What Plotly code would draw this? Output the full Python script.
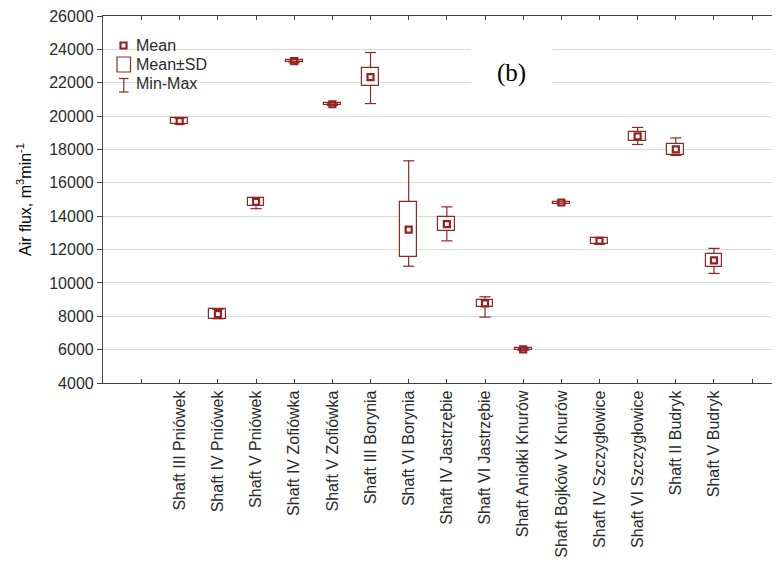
import plotly.graph_objects as go

categories = ["Shaft III Pniówek", "Shaft IV Pniówek", "Shaft V Pniówek", "Shaft IV Zofiówka",
              "Shaft V Zofiówka", "Shaft III Borynia", "Shaft VI Borynia", "Shaft IV Jastrzębie",
              "Shaft VI Jastrzębie", "Shaft Aniołki Knurów", "Shaft Bojków V Knurów",
              "Shaft IV Szczygłowice", "Shaft VI Szczygłowice", "Shaft II Budryk", "Shaft V Budryk"]
means = [19700, 8130, 14860, 23290, 20710, 22330, 13200, 13520, 8770, 6020, 14820, 12520, 18790, 18000, 11350]
sds = [180, 280, 260, 70, 70, 530, 1650, 410, 200, 60, 60, 200, 270, 320, 380]
mins = [19550, 7950, 14450, 23200, 20650, 20750, 11000, 12520, 7950, 5980, 14780, 12400, 18300, 17640, 10570]
maxs = [19850, 8300, 15100, 23380, 20780, 23810, 17320, 14560, 9170, 6060, 14870, 12650, 19320, 18690, 12070]
y_ticks = [4000, 6000, 8000, 10000, 12000, 14000, 16000, 18000, 20000, 22000, 24000, 26000]
legend_labels = ["Mean", "Mean±SD", "Min-Max"]
panel_label = "(b)"
y_title = "Air flux, m<sup>3</sup>min<sup>-1</sup>"

RED = "#8c2a2a"
MRED = "#9a1f1f"
TXT = "#2b2b2b"
FONT = "Liberation Sans, Arial, sans-serif"

xs = list(range(len(categories)))
lo_box = [m - s for m, s in zip(means, sds)]
hi_box = [m + s for m, s in zip(means, sds)]
tops = [max(a, b) for a, b in zip(maxs, hi_box)]
bots = [min(a, b) for a, b in zip(mins, lo_box)]

fig = go.Figure()

# Mean ± SD boxes
fig.add_trace(go.Bar(
    x=xs, y=[2 * s for s in sds], base=lo_box, width=0.44,
    marker=dict(color="white", line=dict(color=RED, width=1.2)),
    showlegend=False, hoverinfo="skip"))

# Whisker segments (outside the box)
wx, wy = [], []
for i in xs:
    wx += [i, i, None, i, i, None]
    wy += [hi_box[i], tops[i], None, bots[i], lo_box[i], None]
fig.add_trace(go.Scatter(x=wx, y=wy, mode="lines", line=dict(color=RED, width=1.2),
                         showlegend=False, hoverinfo="skip", connectgaps=False))

# Whisker caps
fig.add_trace(go.Scatter(x=xs + xs, y=tops + bots, mode="markers",
                         marker=dict(symbol="line-ew", size=8, line=dict(color=RED, width=1.2)),
                         showlegend=False, hoverinfo="skip"))

# Means
fig.add_trace(go.Scatter(x=xs, y=means, mode="markers",
                         marker=dict(symbol="square-open", size=6, color=MRED, line=dict(color=MRED, width=2.2)),
                         showlegend=False, hoverinfo="skip"))

# Legend glyphs (pixel-sized shapes anchored at plot top-left)
def px_rect(x0, x1, y0, y1, color, width):
    return dict(type="rect", xref="paper", yref="paper", xanchor=0, yanchor=1,
                xsizemode="pixel", ysizemode="pixel", x0=x0, x1=x1, y0=y0, y1=y1,
                line=dict(color=color, width=width), fillcolor="white", layer="above")

def px_line(x0, x1, y0, y1, color, width):
    return dict(type="line", xref="paper", yref="paper", xanchor=0, yanchor=1,
                xsizemode="pixel", ysizemode="pixel", x0=x0, x1=x1, y0=y0, y1=y1,
                line=dict(color=color, width=width), layer="above")

shapes = [
    px_rect(17.5, 23.5, -26.5, -32.5, MRED, 2.2),
    px_rect(14, 27.5, -41, -56, RED, 1.2),
    px_line(20.8, 20.8, -62.5, -76, RED, 1.2),
    px_line(16, 25.5, -62.5, -62.5, RED, 1.2),
    px_line(16, 25.5, -76, -76, RED, 1.2),
]

annotations = []
for k, lab in enumerate(legend_labels):
    annotations.append(dict(text=lab, xref="paper", yref="paper", x=0, y=1,
                            xanchor="left", yanchor="middle", xshift=31, yshift=-29.5 - 19 * k,
                            showarrow=False, font=dict(family=FONT, size=16, color=TXT)))
annotations.append(dict(text=panel_label, xref="paper", yref="paper", x=0, y=1,
                        xanchor="center", yanchor="middle", xshift=408, yshift=-57,
                        width=79, height=50, bgcolor="white", showarrow=False,
                        font=dict(family="Liberation Serif, Times New Roman, serif", size=25, color="black")))

# The page body has an 8px default margin, so the figure is 8px smaller than the window
fig.update_layout(
    width=772, height=560,
    margin=dict(l=95, r=0, t=8, b=185, pad=0),
    paper_bgcolor="white", plot_bgcolor="white",
    shapes=shapes, annotations=annotations,
    font=dict(family=FONT, size=16, color=TXT),
    bargap=0, barmode="overlay",
)
fig.update_xaxes(
    range=[-2.01, 15.73],
    tickmode="array",
    tickvals=xs,
    ticktext=categories,
    tickangle=-90,
    ticks="inside", ticklen=4, tickcolor="#444", tickwidth=1,
    minor=dict(ticks="inside", ticklen=4, tickcolor="#444", tickwidth=1, tick0=-1, dtick=1, showgrid=False),
    showline=True, linecolor="#444", linewidth=1.2, mirror="ticks",
    showgrid=False, zeroline=False,
    tickfont=dict(family=FONT, size=16, color=TXT),
)
fig.update_yaxes(
    range=[4000, 26000],
    tickmode="array", tickvals=y_ticks, ticktext=[str(v) for v in y_ticks],
    ticks="outside", ticklen=5, tickcolor="#444", tickwidth=1,
    showline=True, linecolor="#444", linewidth=1.2, mirror=False,
    showgrid=True, gridcolor="#d9d9d9", gridwidth=1, zeroline=False,
    ticklabeloverflow="allow",
    tickfont=dict(family=FONT, size=16, color=TXT),
    title=dict(text=y_title, font=dict(family=FONT, size=16, color="black"), standoff=13),
)

fig.write_html("out.html")
